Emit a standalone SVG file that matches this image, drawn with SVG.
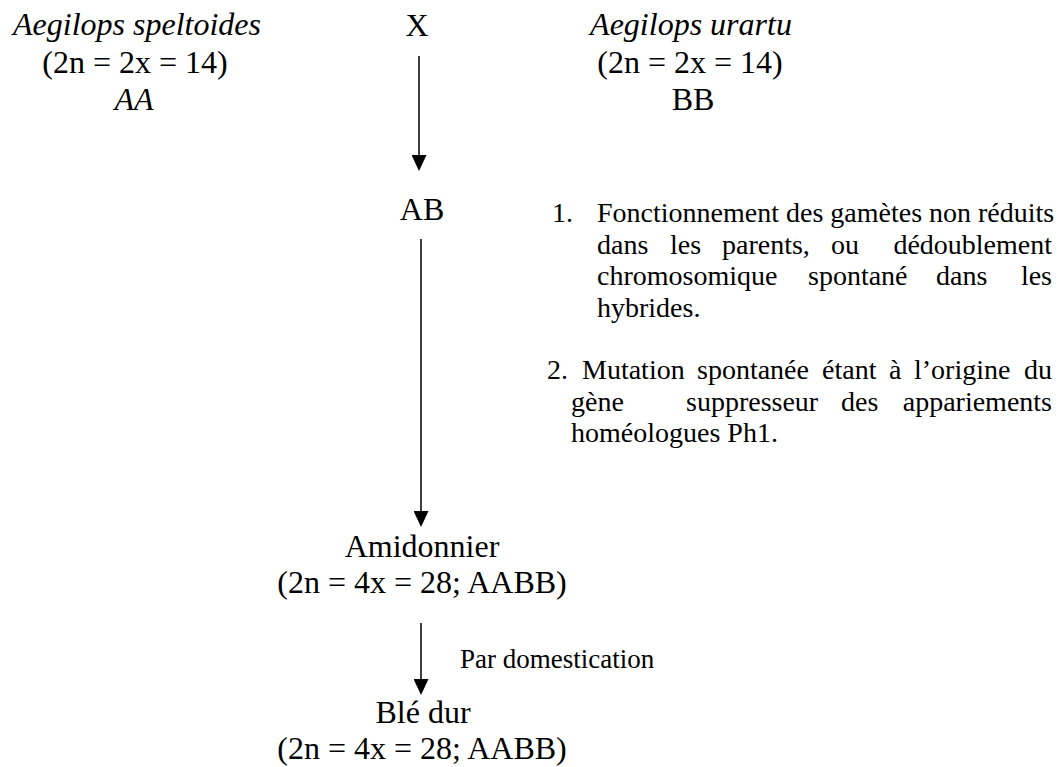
<svg xmlns="http://www.w3.org/2000/svg" width="1061" height="767" viewBox="0 0 1061 767">
<style>
text{font-family:"Liberation Serif","Times New Roman",serif;fill:#000}
.m{font-size:32px}
.c{text-anchor:middle}
.e{text-anchor:end}
.i{font-style:italic}
.s{font-size:28px}
.p{font-size:27px}
.conn line{stroke:#000;stroke-width:1.5;fill:none;marker-end:url(#ah)}
</style>
<defs>
<marker id="ah" viewBox="0 0 16 15" refX="13" refY="7.5" markerWidth="16" markerHeight="15" markerUnits="userSpaceOnUse" orient="auto">
<path d="M0,0 L16,7.5 L0,15 z" fill="#000"/>
</marker>
</defs>
<rect width="1061" height="767" fill="#fff"/>
<g id="parent-a">
<text class="m c i" x="137" y="35">Aegilops speltoides</text>
<text class="m c" x="135" y="73">(2n = 2x = 14)</text>
<text class="m c i" x="134" y="110">AA</text>
</g>
<g id="cross">
<text class="m c" x="417" y="36">X</text>
</g>
<g id="parent-b">
<text class="m c i" x="691" y="35">Aegilops urartu</text>
<text class="m c" x="690" y="73">(2n = 2x = 14)</text>
<text class="m c" x="693" y="110">BB</text>
</g>
<g id="hybrid-ab">
<text class="m c" x="422" y="220">AB</text>
</g>
<g id="notes">
<text class="s" y="222"><tspan x="552">1.</tspan><tspan x="597">Fonctionnement des gamètes non réduits</tspan></text>
<text class="s" y="254"><tspan x="597">dans</tspan><tspan x="670">les</tspan><tspan x="722">parents,</tspan><tspan x="831">ou</tspan></text>
<text class="s e" x="1052" y="254">dédoublement</text>
<text class="s" y="285"><tspan x="597">chromosomique</tspan><tspan x="808">spontané</tspan><tspan x="936">dans</tspan></text>
<text class="s e" x="1052" y="285">les</text>
<text class="s" y="317"><tspan x="597">hybrides.</tspan></text>
<text class="s" y="379"><tspan x="547">2.</tspan><tspan x="582">Mutation</tspan><tspan x="697">spontanée</tspan><tspan x="822">étant</tspan><tspan x="889">à</tspan><tspan x="914">l’origine</tspan></text>
<text class="s e" x="1052" y="379">du</text>
<text class="s" y="411"><tspan x="571">gène</tspan><tspan x="686">suppresseur</tspan><tspan x="841">des</tspan></text>
<text class="s e" x="1052" y="411">appariements</text>
<text class="s" y="442"><tspan x="571">homéologues Ph1.</tspan></text>
</g>
<g id="amidonnier">
<text class="m c" x="422" y="557">Amidonnier</text>
<text class="m c" x="422" y="593">(2n = 4x = 28; AABB)</text>
</g>
<g id="ble-dur">
<text class="m c" x="423" y="723">Blé dur</text>
<text class="m c" x="422" y="759">(2n = 4x = 28; AABB)</text>
</g>
<g id="connectors" class="conn">
<line x1="419" y1="56" x2="419" y2="168"/>
<line x1="421" y1="239" x2="421" y2="524"/>
<line x1="421" y1="623" x2="421" y2="692"/>
<text class="p" x="460" y="668">Par domestication</text>
</g>
</svg>
